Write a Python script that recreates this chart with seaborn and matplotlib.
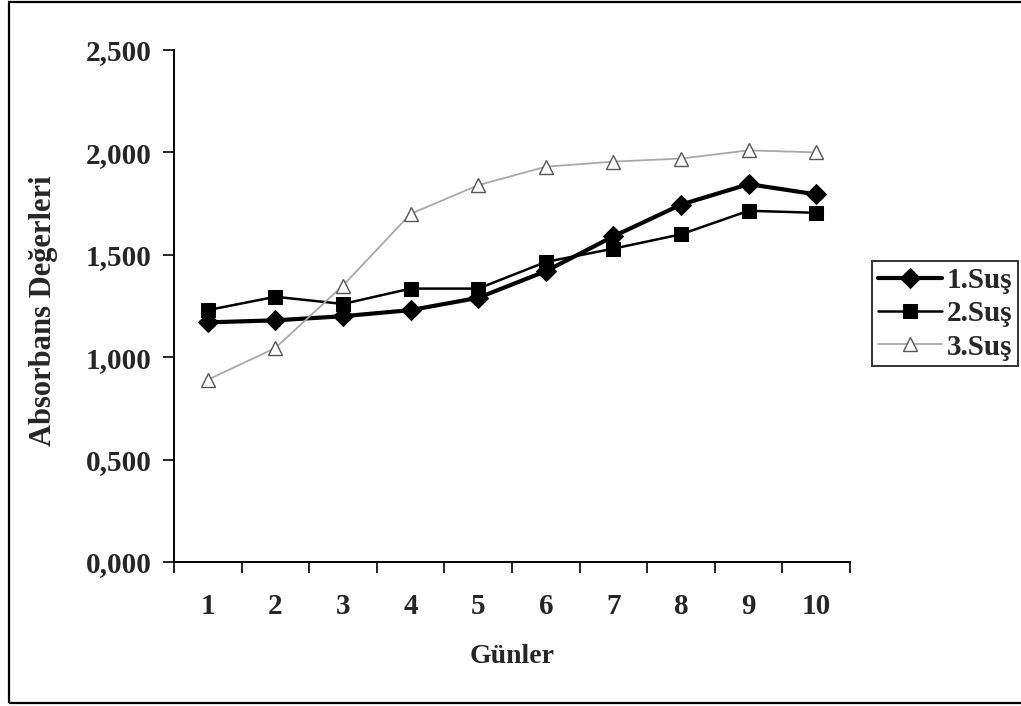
import matplotlib
matplotlib.use("Agg")
import matplotlib.pyplot as plt
from matplotlib.patches import Rectangle
from matplotlib.ticker import FuncFormatter, FixedLocator
import seaborn as sns
import pandas as pd

# Absorbance readings per day for three strains
gunler = [1, 2, 3, 4, 5, 6, 7, 8, 9, 10]
sus1 = [1.170, 1.180, 1.200, 1.230, 1.290, 1.420, 1.590, 1.745, 1.845, 1.795]
sus2 = [1.230, 1.295, 1.260, 1.335, 1.335, 1.465, 1.530, 1.600, 1.715, 1.705]
sus3 = [0.890, 1.045, 1.350, 1.700, 1.840, 1.930, 1.955, 1.970, 2.010, 2.000]
seri_adlari = ["1.Suş", "2.Suş", "3.Suş"]
y_ticks = [0.0, 0.5, 1.0, 1.5, 2.0, 2.5]

sns.set_theme(style="white")
plt.rcParams["font.family"] = ["Liberation Serif", "DejaVu Serif"]
plt.rcParams["font.weight"] = "bold"

df = pd.DataFrame({
    "Gün": gunler * 3,
    "Değer": sus1 + sus2 + sus3,
    "Seri": [seri_adlari[0]] * 10 + [seri_adlari[1]] * 10 + [seri_adlari[2]] * 10,
})

fig = plt.figure(figsize=(10.21, 7.06), dpi=100)
ax = fig.add_axes([174 / 1021, 1 - 562 / 706, (850 - 174) / 1021, (562 - 50) / 706])

styles = {
    "1.Suş": dict(color="black", linewidth=3.0, marker="D", markersize=10,
                  markerfacecolor="black", markeredgecolor="black"),
    "2.Suş": dict(color="black", linewidth=1.8, marker="s", markersize=10,
                  markerfacecolor="black", markeredgecolor="black"),
    "3.Suş": dict(color="#a8a8a8", linewidth=1.3, marker="^", markersize=10,
                  markerfacecolor="white", markeredgecolor="#555555",
                  markeredgewidth=1.0),
}
for name in seri_adlari:
    sub = df[df["Seri"] == name]
    sns.lineplot(data=sub, x="Gün", y="Değer", ax=ax, label=name, **styles[name])

ax.set_xlim(0.5, 10.5)
ax.set_ylim(0, 2.5)
ax.yaxis.set_major_locator(FixedLocator(y_ticks))
ax.yaxis.set_major_formatter(FuncFormatter(lambda v, p: f"{v:.3f}".replace(".", ",")))

# category axis: ticks at boundaries, labels at centres
ax.set_xticks([g + 0.5 for g in [0] + gunler])
ax.set_xticklabels([])
ax.set_xticks(gunler, minor=True)
ax.set_xticklabels([str(g) for g in gunler], minor=True)
ax.tick_params(axis="x", which="major", direction="out", length=8, width=1.2,
               color="black", bottom=True)
ax.tick_params(axis="x", which="minor", length=0, pad=22, labelsize=21)
ax.tick_params(axis="y", which="major", direction="out", length=8, width=1.2,
               color="black", left=True, pad=8, labelsize=21)
for lab in ax.get_xticklabels(minor=True) + ax.get_yticklabels():
    lab.set_fontweight("bold")

for side in ["top", "right"]:
    ax.spines[side].set_visible(False)
for side in ["left", "bottom"]:
    ax.spines[side].set_color("black")
    ax.spines[side].set_linewidth(1.4)

ax.set_xlabel("Günler", fontsize=20, fontweight="bold")
ax.set_ylabel("Absorbans Değerleri", fontsize=22, fontweight="bold")
ax.xaxis.set_label_coords(0.5, -(644 - 562) / 512)
ax.yaxis.set_label_coords(-(174 - 58) / 676, 0.49)

ax.get_legend().remove()
handles, labels = ax.get_legend_handles_labels()
leg = fig.legend(handles, labels, loc="upper left",
                 bbox_to_anchor=(872 / 1021, 1 - 261 / 706),
                 frameon=True, fancybox=False, edgecolor="black",
                 prop={"size": 21, "weight": "bold"}, handlelength=2.2,
                 handletextpad=0.15, borderpad=0.2, labelspacing=0.22,
                 borderaxespad=0)
leg.get_frame().set_linewidth(1.4)

# outer chart border
fig.patches.append(Rectangle((9 / 1021, 1 - 703 / 706), 1.2, (703 - 2) / 706,
                             transform=fig.transFigure, fill=False,
                             edgecolor="black", linewidth=1.6))

fig.savefig("out.png", dpi=100)
